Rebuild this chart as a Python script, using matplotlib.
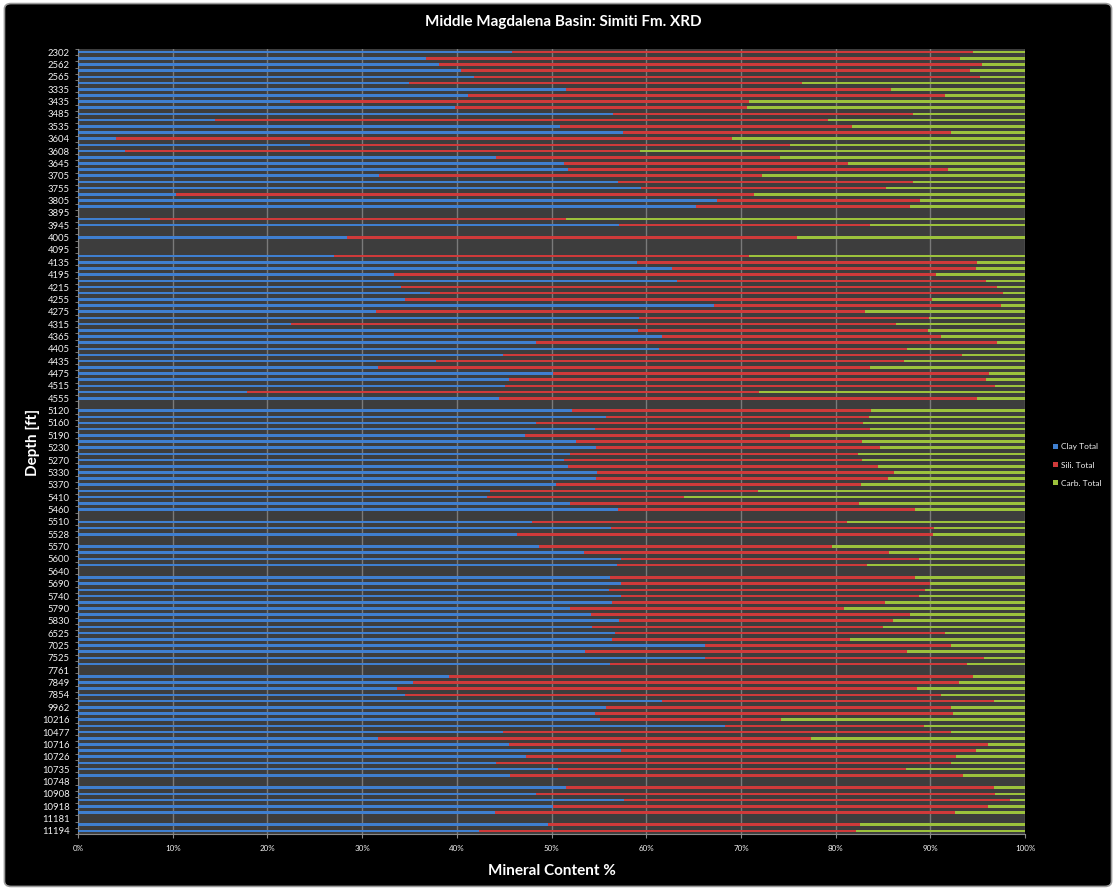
import numpy as np
import matplotlib
matplotlib.use("Agg")
import matplotlib.pyplot as plt
from matplotlib.patches import FancyBboxPatch, Patch

plt.rcParams['font.family'] = ['Lato', 'DejaVu Sans']

# Depth labels (every other sample row carries a label)
depth_labels = [
    "2302", "2562", "2565", "3335", "3435", "3485", "3535", "3604", "3608", "3645",
    "3705", "3755", "3805", "3895", "3945", "4005", "4095", "4135", "4195", "4215",
    "4255", "4275", "4315", "4365", "4405", "4435", "4475", "4515", "4555", "5120",
    "5160", "5190", "5230", "5270", "5330", "5370", "5410", "5460", "5510", "5528",
    "5570", "5600", "5640", "5690", "5740", "5790", "5830", "6525", "7025", "7525",
    "7761", "7849", "7854", "9962", "10216", "10477", "10716", "10726", "10735", "10748",
    "10908", "10918", "11181", "11194",
]

# Mineral fractions per sample, top to bottom (None = no analysis)
clay_total = [
    45.8, 36.7, 38.1, 40.4, 41.8, 35.0, 51.5, 41.2, 22.4, 39.8,
    56.5, 14.5, 50.9, 57.5, 4.0, 24.5, 5.0, 44.1, 51.3, 51.7,
    31.8, 57.0, 59.4, 10.3, 67.5, 65.3, None, 7.6, 57.1, None,
    28.4, None, None, 27.0, 59.0, 62.7, 33.4, 63.2, 34.1, 37.2,
    34.5, 67.2, 31.5, 59.2, 22.5, 59.1, 61.7, 48.4, 61.3, 44.9,
    37.8, 31.7, 50.2, 45.5, 45.1, 17.8, 44.5, None, 52.2, 55.7,
    48.4, 54.6, 47.2, 52.6, 54.7, 51.9, 51.3, 51.7, 54.8, 54.7,
    50.5, 43.5, 43.2, 51.9, 57.0, None, 47.9, 56.3, 46.4, None,
    48.7, 53.4, 57.3, 56.9, None, 56.2, 57.3, 56.1, 57.3, 56.4,
    52.0, 54.2, 57.1, 54.3, 56.7, 56.4, 66.2, 53.5, 66.2, 56.2,
    None, 39.2, 35.4, 33.7, 34.5, 61.7, 55.7, 54.6, 55.1, 68.3,
    44.9, 31.7, 45.5, 57.3, 47.3, 44.1, 50.7, 45.6, None, 51.5,
    48.4, 57.6, 50.2, 44.0, None, 49.6, 42.3,
]
sili_total = [
    48.7, 56.4, 57.4, 53.8, 53.4, 41.5, 34.3, 50.4, 48.4, 30.8,
    31.7, 64.7, 30.8, 34.7, 65.1, 50.7, 54.3, 30.0, 30.0, 40.2,
    40.4, 31.2, 25.9, 61.1, 21.4, 22.6, None, 43.9, 26.5, None,
    47.5, None, None, 43.8, 35.9, 32.1, 57.2, 32.7, 62.9, 60.5,
    55.7, 30.3, 51.6, 30.7, 63.9, 30.7, 29.4, 48.6, 26.2, 48.4,
    49.4, 51.9, 46.0, 50.4, 51.7, 54.1, 50.4, None, 31.5, 27.8,
    34.5, 29.0, 28.0, 30.2, 30.0, 30.5, 31.5, 32.8, 31.4, 30.8,
    32.2, 28.3, 20.8, 30.6, 31.4, None, 33.3, 34.1, 43.9, None,
    30.9, 32.2, 31.5, 26.4, None, 32.2, 32.7, 33.3, 31.5, 28.8,
    28.9, 33.6, 29.0, 30.7, 34.9, 25.1, 26.0, 34.0, 29.5, 37.7,
    None, 55.3, 57.6, 54.9, 56.6, 35.0, 36.5, 37.8, 19.1, 21.0,
    47.3, 45.7, 50.6, 37.5, 45.4, 48.1, 36.7, 47.8, None, 45.2,
    48.4, 40.8, 45.9, 48.6, None, 33.0, 39.8,
]
carb_total = [
    5.5, 6.9, 4.5, 5.8, 4.8, 23.5, 14.2, 8.4, 29.2, 29.4,
    11.8, 20.8, 18.3, 7.8, 30.9, 24.8, 40.7, 25.9, 18.7, 8.1,
    27.8, 11.8, 14.7, 28.6, 11.1, 12.1, None, 48.5, 16.4, None,
    24.1, None, None, 29.2, 5.1, 5.2, 9.4, 4.1, 3.0, 2.3,
    9.8, 2.5, 16.9, 10.1, 13.6, 10.2, 8.9, 3.0, 12.5, 6.7,
    12.8, 16.4, 3.8, 4.1, 3.2, 28.1, 5.1, None, 16.3, 16.5,
    17.1, 16.4, 24.8, 17.2, 15.3, 17.6, 17.2, 15.5, 13.8, 14.5,
    17.3, 28.2, 36.0, 17.5, 11.6, None, 18.8, 9.6, 9.7, None,
    20.4, 14.4, 11.2, 16.7, None, 11.6, 10.0, 10.6, 11.2, 14.8,
    19.1, 12.2, 13.9, 15.0, 8.4, 18.5, 7.8, 12.5, 4.3, 6.1,
    None, 5.5, 7.0, 11.4, 8.9, 3.3, 7.8, 7.6, 25.8, 10.7,
    7.8, 22.6, 3.9, 5.2, 7.3, 7.8, 12.6, 6.6, None, 3.3,
    3.2, 1.6, 3.9, 7.4, None, 17.4, 17.9,
]

series_names = ["Clay Total", "Sili. Total", "Carb. Total"]
series_colors = ["#3f7fd0", "#cf3a3a", "#9cc23c"]


def as_array(values):
    return np.array([np.nan if v is None else v for v in values], dtype=float)


clay = as_array(clay_total)
sili = as_array(sili_total)
carb = as_array(carb_total)
total = clay + sili + carb
parts = [clay / total * 100, sili / total * 100, carb / total * 100]

n = len(clay)
rows = np.arange(n)

fig = plt.figure(figsize=(11.16, 8.90), dpi=100, facecolor="white")
frame = FancyBboxPatch((0.004, 0.004), 0.992, 0.992,
                       boxstyle="round,pad=0,rounding_size=0.006",
                       transform=fig.transFigure, facecolor="black",
                       edgecolor="#9a9a9a", linewidth=1.2, zorder=-10)
fig.patches.append(frame)

ax = fig.add_axes([0.0699, 0.0629, 0.8486, 0.8820])
ax.set_zorder(5)
ax.set_facecolor("#3d3d3d")

left = np.zeros(n)
for vals, name, col in zip(parts, series_names, series_colors):
    ax.barh(rows, np.nan_to_num(vals), left=left, height=0.42,
            color=col, edgecolor="none", label=name, zorder=3)
    left = left + np.nan_to_num(vals)

ax.set_xlim(0, 100)
ax.set_ylim(n - 0.5, -0.5)

ax.set_xticks(np.arange(0, 101, 10))
ax.set_xticklabels([f"{v}%" for v in range(0, 101, 10)])
ax.xaxis.grid(True, color="#7a7a7a", linewidth=1.0, zorder=1)
ax.set_axisbelow(True)

ax.set_yticks(rows[::2])
ax.set_yticklabels(depth_labels)
ax.set_yticks(np.arange(-0.5, n, 1), minor=True)
ax.tick_params(axis="y", which="major", length=0, pad=6,
               labelsize=6.8, labelcolor="#f0f0f0")
ax.tick_params(axis="y", which="minor", length=2.5, color="#8a8a8a", width=0.6)
ax.tick_params(axis="x", which="major", length=3, color="#8a8a8a",
               labelsize=5.8, labelcolor="#f0f0f0", pad=5)

for side in ("top", "right"):
    ax.spines[side].set_visible(False)
for side in ("left", "bottom"):
    ax.spines[side].set_color("#8a8a8a")
    ax.spines[side].set_linewidth(0.8)

fig.text(0.5045, 1 - 22 / 890, "Middle Magdalena Basin: Simiti Fm. XRD",
         ha="center", va="center", color="white", fontsize=11, fontweight="bold")
fig.text(552 / 1116, 1 - 871 / 890, "Mineral Content %",
         ha="center", va="center", color="white", fontsize=11, fontweight="bold")
fig.text(33 / 1116, 1 - 442 / 890, "Depth [ft]", rotation=90,
         ha="center", va="center", color="white", fontsize=11, fontweight="bold")

handles = [Patch(facecolor=c, edgecolor="none") for c in series_colors]
leg = fig.legend(handles, series_names, loc="center left",
                 bbox_to_anchor=(1050 / 1116, 1 - 465 / 890),
                 frameon=False, fontsize=6, labelcolor="#f0f0f0",
                 handlelength=0.55, handleheight=0.55, handletextpad=0.35,
                 labelspacing=1.35, borderaxespad=0)

fig.savefig("out.png", dpi=100, facecolor=fig.get_facecolor())
